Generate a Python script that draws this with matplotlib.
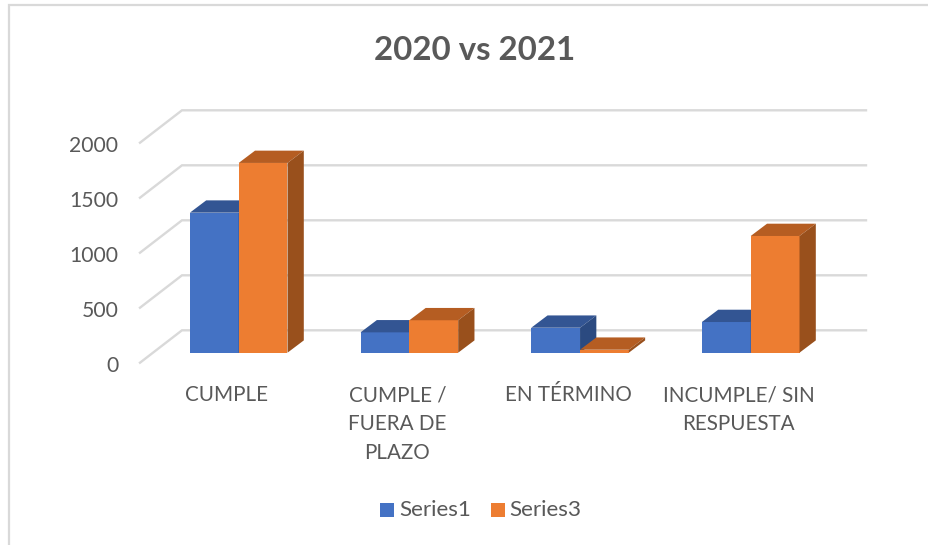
import matplotlib
matplotlib.use('agg')
import matplotlib.pyplot as plt
from matplotlib.patches import Polygon, Rectangle

categories = ["CUMPLE", "CUMPLE /\nFUERA DE\nPLAZO", "EN TÉRMINO", "INCUMPLE/ SIN\nRESPUESTA"]
series1 = [1273, 185, 227, 279]
series3 = [1725, 295, 27, 1061]
yticks = [0, 500, 1000, 1500, 2000]

W, H = 929, 545
PX_X = 170.67  # pixels per category
PX_Y = 0.11    # pixels per value unit
X0 = 238.7     # pixel of first category centre
Y0 = 352.7     # pixel of value 0 on the bar front

BLUE = ('#4472c4', '#335593', '#2b4a80')
ORANGE = ('#ed7d31', '#b55d22', '#99501c')
GRID = '#d9d9d9'
TEXT = '#595959'

plt.rcParams['font.family'] = ['Lato', 'DejaVu Sans']


def px(x):
    return (x - X0) / PX_X


def py(y):
    return (Y0 - y) / PX_Y


def draw_bar(ax, x, width, value, colors, z):
    dx = 16.3 / PX_X
    dy = 12.3 / PX_Y
    ax.bar(x, value, width, align='edge', color=colors[0], zorder=z)
    ax.add_patch(Polygon([(x, value), (x + width, value), (x + width + dx, value + dy), (x + dx, value + dy)],
                         closed=True, color=colors[1], lw=0, zorder=z))
    ax.add_patch(Polygon([(x + width, 0), (x + width + dx, dy), (x + width + dx, value + dy), (x + width, value)],
                         closed=True, color=colors[2], lw=0, zorder=z))


fig = plt.figure(figsize=(W / 100, H / 100), dpi=100)
ax = fig.add_axes([0, 0, 1, 1])
ax.set_xlim(px(0), px(W))
ax.set_ylim(py(H), py(0))
ax.axis('off')

# chart frame, only top and left are inside the crop
ax.plot([px(9), px(9), px(929)], [py(545), py(5), py(5)], color=GRID, lw=1.6,
        solid_joinstyle='miter', zorder=1)

# back wall gridlines and the slanted floor part
back = 22.4 / PX_Y
front = -10 / PX_Y
label_drop = 3 / PX_Y
for v in yticks:
    ax.plot([px(140), px(182), px(866)], [v + front, v + back, v + back],
            color=GRID, lw=1.7, solid_joinstyle='miter', zorder=2)
    ax.text(px(118.5), v + front - label_drop, str(v), ha='right', va='center', fontsize=15.2, color=TEXT)

bar_w = 48.8 / PX_X
for i in range(len(categories)):
    draw_bar(ax, i - bar_w, bar_w, series1[i], BLUE, 3 + i * 2)
    draw_bar(ax, i, bar_w, series3[i], ORANGE, 4 + i * 2)
    ax.text(i - 12 / PX_X, py(385), categories[i], ha='center', va='top', fontsize=14.9,
            color=TEXT, linespacing=1.56)

ax.text(px(475), py(51), "2020 vs 2021", ha='center', va='center', fontsize=23.8,
        fontweight='bold', color=TEXT)

# legend
ax.add_patch(Rectangle((px(380), py(517)), 14 / PX_X, 14 / PX_Y, color=BLUE[0], lw=0))
ax.text(px(399), py(510.5), "Series1", ha='left', va='center', fontsize=16.2, color=TEXT)
ax.add_patch(Rectangle((px(491), py(517)), 14 / PX_X, 14 / PX_Y, color=ORANGE[0], lw=0))
ax.text(px(509), py(510.5), "Series3", ha='left', va='center', fontsize=16.2, color=TEXT)

fig.savefig('out.png', dpi=100)
